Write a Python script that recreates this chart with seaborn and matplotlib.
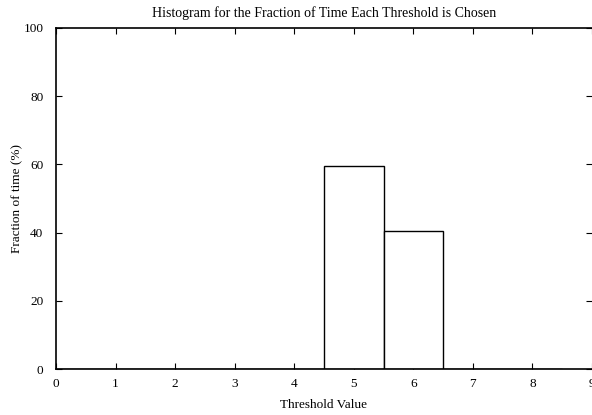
import matplotlib
matplotlib.use("Agg")
import matplotlib.pyplot as plt
import seaborn as sns
import pandas as pd

# Share of runs in which each threshold value was selected
thresholds = [0, 1, 2, 3, 4, 5, 6, 7, 8]
fraction_pct = [0.0, 0.0, 0.0, 0.0, 0.0, 59.4, 40.6, 0.0, 0.0]
x_ticks = [0, 1, 2, 3, 4, 5, 6, 7, 8, 9]
y_ticks = [0, 20, 40, 60, 80, 100]

df = pd.DataFrame({"threshold": thresholds, "fraction": fraction_pct})

sns.set_theme(style="white")
plt.rcParams["font.family"] = ["Liberation Serif", "DejaVu Serif"]

fig = plt.figure(figsize=(5.92, 4.15), dpi=100)
ax = fig.add_axes([56 / 592, 1 - 369 / 415, 1 - 56 / 592, (369 - 28) / 415])

sns.barplot(data=df, x="threshold", y="fraction", order=thresholds,
            width=1.0, color="white", edgecolor="black", linewidth=1.0,
            saturation=1, ax=ax)

ax.set_xlim(0, 9)
ax.set_ylim(0, 100)
ax.set_xticks(x_ticks)
ax.set_xticklabels([str(t) for t in x_ticks])
ax.set_yticks(y_ticks)
ax.set_yticklabels([str(t) for t in y_ticks])

ax.tick_params(axis="both", direction="in", length=4, width=0.8, color="black",
               labelsize=9.5, labelcolor="black", top=True, right=True,
               bottom=True, left=True)
ax.tick_params(axis="x", pad=6.5)
ax.tick_params(axis="y", pad=9)

for side in ["left", "bottom", "top"]:
    ax.spines[side].set_visible(True)
    ax.spines[side].set_color("black")
    ax.spines[side].set_linewidth(1.2)
ax.spines["right"].set_visible(False)

ax.set_xlabel("Threshold Value", fontsize=9.5, color="black", labelpad=6.5)
ax.set_ylabel("Fraction of time (%)", fontsize=9.5, color="black", labelpad=0)
ax.set_title("Histogram for the Fraction of Time Each Threshold is Chosen",
             fontsize=10, color="black", pad=8)

fig.savefig("out.png", dpi=100)
